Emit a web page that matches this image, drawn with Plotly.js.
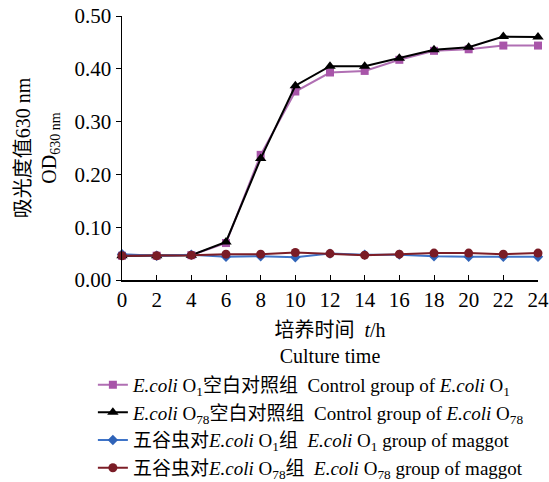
<!DOCTYPE html>
<html>
<head>
<meta charset="utf-8">
<script src="https://cdn.plot.ly/plotly-3.0.1.min.js"></script>
<style>html,body{margin:0;padding:0;background:#fff;}#chart{width:549px;height:482px;}</style>
</head>
<body>
<div id="chart"></div>
<script>
const hours = [0, 2, 4, 6, 8, 10, 12, 14, 16, 18, 20, 22, 24];
const controlO1 = [0.046, 0.046, 0.047, 0.070, 0.237, 0.357, 0.393, 0.396, 0.417, 0.434, 0.437, 0.444, 0.444];
const controlO78 = [0.046, 0.046, 0.047, 0.072, 0.230, 0.368, 0.405, 0.405, 0.420, 0.436, 0.441, 0.461, 0.460];
const maggotO1 = [0.049, 0.046, 0.048, 0.044, 0.045, 0.043, 0.050, 0.048, 0.048, 0.045, 0.044, 0.044, 0.044];
const maggotO78 = [0.046, 0.046, 0.047, 0.049, 0.049, 0.052, 0.050, 0.047, 0.049, 0.051, 0.051, 0.049, 0.051];
const yTicks = [0, 0.1, 0.2, 0.3, 0.4, 0.5];
const yTickText = ['0.00', '0.10', '0.20', '0.30', '0.40', '0.50'];
const seriesNames = [
  '<i>E.coli</i> O<sub>1</sub>空白对照组\u00a0 Control group of <i>E.coli</i> O<sub>1</sub>',
  '<i>E.coli</i> O<sub>78</sub>空白对照组\u00a0 Control group of <i>E.coli</i> O<sub>78</sub>',
  '五谷虫对<i>E.coli</i> O<sub>1</sub>组\u00a0 <i>E.coli</i> O<sub>1</sub> group of maggot',
  '五谷虫对<i>E.coli</i> O<sub>78</sub>组\u00a0 <i>E.coli</i> O<sub>78</sub> group of maggot'
];

const FONT = '"Liberation Serif", "Times New Roman", "Noto Sans CJK SC", serif';

const traces = [
  {x: hours, y: controlO1, name: seriesNames[0], mode: 'lines+markers',
   line: {color: '#b06fb3', width: 2}, marker: {symbol: 'square', size: 8, color: '#a855a9'}},
  {x: hours, y: controlO78, name: seriesNames[1], mode: 'lines+markers',
   line: {color: '#000000', width: 2}, marker: {symbol: 'triangle-up', size: 10, color: '#000000'}},
  {x: hours, y: maggotO1, name: seriesNames[2], mode: 'lines+markers',
   line: {color: '#3f74c8', width: 2}, marker: {symbol: 'diamond', size: 8, color: '#2f63b8'}},
  {x: hours, y: maggotO78, name: seriesNames[3], mode: 'lines+markers',
   line: {color: '#7d1e27', width: 2}, marker: {symbol: 'circle', size: 9, color: '#7a1c26'}}
].map(t => Object.assign(t, {cliponaxis: false}));

const layout = {
  width: 549, height: 482,
  margin: {l: 122, r: 11, t: 16, b: 202, autoexpand: false},
  paper_bgcolor: '#ffffff', plot_bgcolor: '#ffffff',
  font: {family: FONT, size: 20, color: '#000000'},
  showlegend: true,
  legend: {
    x: -0.07, xanchor: 'left', y: -0.325, yanchor: 'top',
    font: {family: FONT, size: 19, color: '#000000'},
    tracegroupgap: 0, itemwidth: 30, bgcolor: 'rgba(0,0,0,0)'
  },
  xaxis: {
    range: [0, 24], tickvals: hours, ticktext: hours.map(String),
    ticks: 'inside', ticklen: 5, tickcolor: '#000', tickwidth: 1,
    showline: true, linecolor: '#000', linewidth: 1.5,
    showgrid: false, zeroline: false,
    tickfont: {family: FONT, size: 21},
    title: {text: '培养时间\u00a0 <i>t</i>/h<br>Culture time', font: {family: FONT, size: 20}, standoff: 12}
  },
  yaxis: {
    range: [0, 0.5], tickvals: yTicks, ticktext: yTickText,
    ticks: 'outside', ticklen: 5, tickcolor: '#000', tickwidth: 1,
    showline: true, linecolor: '#000', linewidth: 1.5,
    showgrid: false, zeroline: false,
    tickfont: {family: FONT, size: 21},
    title: {text: '吸光度值630 nm<br>OD<sub>630 nm</sub>', font: {family: FONT, size: 20}, standoff: 12}
  }
};

Plotly.newPlot('chart', traces, layout, {displayModeBar: false, staticPlot: true});
</script>
</body>
</html>
